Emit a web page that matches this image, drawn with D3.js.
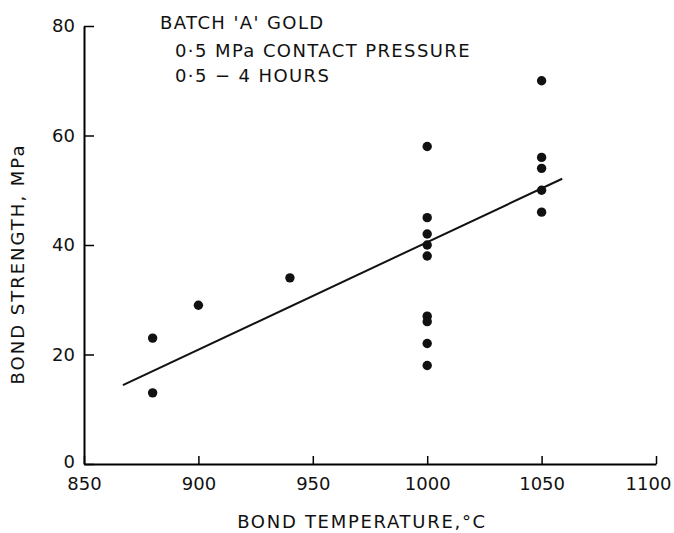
<!DOCTYPE html>
<html>
<head>
    <title>Bond strength vs temperature</title>
    <meta charset="utf-8">
    <style>
        body { margin: 0; background: #fff; }
        text { font-family: "DejaVu Sans", sans-serif; fill: #111; }
    </style>
</head>
<body>
<svg id="svg"></svg>
<script src="https://cdn.jsdelivr.net/npm/d3@7/dist/d3.min.js"></script>
<script>
    // measured points (temperature, strength)
    const temps     = [880, 880, 900, 940, 1000, 1000, 1000, 1000, 1000, 1000, 1000, 1000, 1000, 1050, 1050, 1050, 1050, 1050]
    const strengths = [23, 13, 29, 34, 58, 45, 42, 40, 38, 27, 26, 22, 18, 70, 56, 54, 50, 46]

    // fitted line end points
    const fitTemps = [867, 1059]
    const fitStrengths = [14.4, 52.1]

    const xTicks = [850, 900, 950, 1000, 1050, 1100]
    const yTicks = [0, 20, 40, 60, 80]
    const notes = ["BATCH 'A' GOLD", "0·5 MPa CONTACT PRESSURE", "0·5 − 4 HOURS"]

    const WIDTH = 674
    const HEIGHT = 533

    const svg = d3.select('svg')
        .attr('width', WIDTH)
        .attr('height', HEIGHT)

    const x = d3.scaleLinear().domain([850, 1100]).range([84, 656])
    const y = d3.scaleLinear().domain([0, 80]).range([464, 26])

    const xAxis = svg.append('g')
        .attr('transform', `translate(0,${y(0)})`)
        .call(d3.axisBottom(x).tickValues(xTicks).tickSizeInner(-8).tickSizeOuter(0).tickPadding(13)
            .tickFormat(d3.format('d')))
    xAxis.select('.domain').attr('stroke-width', 2)
    xAxis.selectAll('.tick line').attr('stroke-width', 1.5)
    xAxis.selectAll('text').attr('font-size', 18).attr('font-family', null)
        .attr('dx', (d) => d === 1100 ? -8 : 0)

    const yAxis = svg.append('g')
        .attr('transform', `translate(${x(850)},0)`)
        .call(d3.axisLeft(y).tickValues(yTicks).tickSizeInner(-10).tickSizeOuter(0).tickPadding(9))
    yAxis.select('.domain').attr('stroke-width', 2)
    yAxis.selectAll('.tick line').attr('stroke-width', 1.5)
    yAxis.selectAll('text').attr('font-size', 18).attr('font-family', null)
        .attr('dy', (d) => d === 0 ? '0.2em' : '0.32em')

    // fitted line
    svg.append('line')
        .attr('x1', x(fitTemps[0])).attr('y1', y(fitStrengths[0]))
        .attr('x2', x(fitTemps[1])).attr('y2', y(fitStrengths[1]))
        .attr('stroke', '#111')
        .attr('stroke-width', 2)

    svg.append('g')
        .selectAll('circle')
        .data(temps)
        .enter().append('circle')
        .attr('cx', (d) => x(d))
        .attr('cy', (d, i) => y(strengths[i]))
        .attr('r', 4.7)
        .attr('fill', '#111')

    // annotation block
    svg.append('g')
        .selectAll('text')
        .data(notes)
        .enter().append('text')
        .attr('x', (d, i) => i === 0 ? 160 : 175)
        .attr('y', (d, i) => [29, 57, 82][i])
        .attr('font-size', 18)
        .attr('letter-spacing', 1.4)
        .text((d) => d)

    svg.append('text')
        .attr('x', 362)
        .attr('y', 528)
        .attr('text-anchor', 'middle')
        .attr('font-size', 18)
        .attr('letter-spacing', 1.7)
        .text('BOND TEMPERATURE,°C')

    svg.append('text')
        .attr('transform', 'translate(24,264) rotate(-90)')
        .attr('text-anchor', 'middle')
        .attr('font-size', 18)
        .attr('letter-spacing', 2)
        .text('BOND STRENGTH, MPa')
</script>
</body>
</html>
